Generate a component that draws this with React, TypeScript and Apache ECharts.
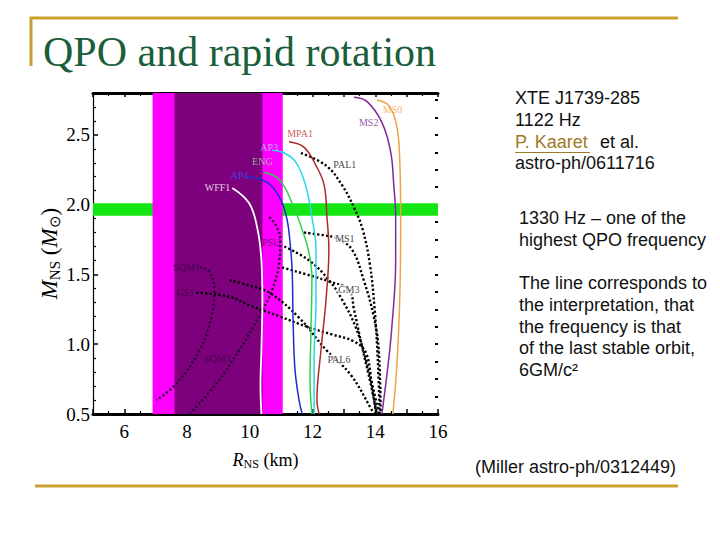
import React, { useEffect, useRef } from "react";
import * as echarts from "echarts";

// ---- data (R in km, M in solar masses) ----
const WFF1 = [[9.44,2.12],[9.98,2.01],[10.24,1.83],[10.37,1.6],[10.4,1.32],[10.37,0.96],[10.34,0.7],[10.37,0.5]];
const AP4 = [[9.89,2.2],[10.37,2.18],[10.71,2.13],[11.0,2.03],[11.19,1.89],[11.29,1.71],[11.35,1.53],[11.38,1.17],[11.44,0.82],[11.57,0.6],[11.67,0.5]];
const ENG = [[10.46,2.23],[10.94,2.18],[11.35,2.01],[11.67,1.82],[11.89,1.65],[11.98,1.48],[11.95,1.1],[11.92,0.74],[11.98,0.5]];
const AP3 = [[10.71,2.39],[11.1,2.37],[11.48,2.3],[11.79,2.13],[11.98,1.91],[12.11,1.68],[12.11,1.32],[12.05,0.89],[12.05,0.5]];
const MPA1 = [[11.25,2.45],[11.73,2.41],[12.11,2.28],[12.37,2.14],[12.46,1.91],[12.52,1.68],[12.43,1.32],[12.27,0.96],[12.14,0.6],[12.21,0.5]];
const MS2 = [[13.32,2.77],[13.73,2.74],[14.21,2.59],[14.49,2.38],[14.59,2.14],[14.65,1.91],[14.65,1.6],[14.52,1.1],[14.37,0.78],[14.21,0.5]];
const MS0 = [[14.05,2.75],[14.43,2.71],[14.68,2.57],[14.78,2.32],[14.81,1.89],[14.78,1.32],[14.68,0.82],[14.56,0.5]];

const PAL1 = [[11.63,2.37],[12.43,2.28],[12.94,2.14],[13.32,1.98],[13.6,1.82],[13.83,1.57],[13.98,1.25],[14.08,0.89],[14.14,0.5]];
const MS1 = [[11.73,1.8],[12.37,1.78],[12.75,1.76],[13.25,1.68],[13.63,1.46],[13.95,1.2],[14.11,0.96],[14.17,0.5]];
const GM3 = [[11.03,1.55],[12.11,1.48],[12.52,1.45],[13.16,1.39],[13.32,1.25],[13.57,0.99],[13.86,0.71],[14.05,0.5]];
const PSU = [[11.1,1.7],[11.89,1.6],[12.52,1.46],[12.94,1.32],[13.38,1.12],[13.7,0.89],[14.02,0.6],[14.11,0.5]];
const GS1 = [[8.3,1.37],[9.35,1.34],[9.98,1.28],[10.94,1.2],[11.89,1.12],[12.62,1.07],[13.32,1.02],[13.7,0.94],[13.89,0.71],[14.02,0.5]];
const PAL6 = [[9.35,1.46],[9.98,1.42],[10.62,1.37],[11.57,1.19],[12.43,0.96],[13.22,0.78],[13.86,0.54],[13.95,0.5]];
const SQM1 = [[8.4,1.55],[8.71,1.52],[8.87,1.39],[8.78,1.2],[8.4,0.96],[7.67,0.72],[7.03,0.6]];
const SQM3 = [[8.08,0.5],[8.94,0.72],[9.67,0.96],[10.3,1.2],[10.71,1.39],[10.94,1.59],[10.97,1.75],[10.84,1.85],[10.62,1.91]];

const MAGENTA_BAND = [6.9, 11.05];
const PURPLE_BAND = [7.6, 10.4];
const GREEN_BAND = [1.92, 2.01];

const LABEL_NAMES = ["WFF1","AP4","ENG","AP3","MPA1","PAL1","MS2","MS0","MS1","GM3","PAL6","PSU","SQM1","GS1","SQM3"];
const LABEL_R = [8.97,9.67,10.4,10.62,11.6,13.03,13.79,14.55,13.03,13.16,12.84,10.68,7.98,7.95,8.97];
const LABEL_M = [2.12,2.21,2.31,2.41,2.51,2.29,2.59,2.68,1.76,1.39,0.89,1.73,1.55,1.37,0.9];

const X_MIN = 5, X_MAX = 16;
const Y_MIN = 0.5, Y_MAX = 2.8;

const NOTES_1 = ["XTE J1739-285", "1122 Hz"];
const NOTE_AUTHOR = "P. Kaaret";
const NOTE_ETAL = "et al.";
const NOTE_REF = "astro-ph/0611716";
const NOTES_2 = ["1330 Hz \u2013 one of the", "highest QPO frequency"];
const NOTES_3 = ["The line corresponds to", "the interpretation, that", "the frequency is that", "of the last stable orbit,", "6GM/c\u00B2"];
const CITATION = "(Miller astro-ph/0312449)";

const LABEL_COLORS: Record<string, string> = {
  WFF1: "#ffffff", AP4: "#3a55ff", ENG: "#9fdc9f", AP3: "#a8ccff", MPA1: "#c0302a",
  PAL1: "#111", MS2: "#7d2590", MS0: "#eea03c", MS1: "#111", GM3: "#111", PAL6: "#111",
  PSU: "#4a0a4a", SQM1: "#35063a", GS1: "#35063a", SQM3: "#35063a",
};

export default function App() {
  const ref = useRef<HTMLDivElement>(null);
  useEffect(() => {
    if (!ref.current) return;
    const chart = echarts.init(ref.current, null, { renderer: "svg" });
    const serif = "Liberation Serif";
    const sans = "Liberation Sans";

    const solid = (name: string, data: number[][], color: string, width = 1.5) => ({
      type: "line", name, data, showSymbol: false, smooth: 0.4, silent: true, z: 3,
      lineStyle: { color, width },
    });
    const dotted = (name: string, data: number[][], color = "#000") => ({
      type: "line", name, data, showSymbol: false, smooth: 0.4, silent: true, z: 3,
      lineStyle: { color, width: 2.4, type: [2.2, 2.2] },
    });

    const blackLabel = new Set(["PAL1", "MS1", "GM3", "PAL6"]);

    const notesGraphic: any[] = [];
    const textEl = (text: string, x: number, y: number, fill = "#111", size = 18) => ({
      type: "text", x, y, silent: true,
      style: { text, fontFamily: sans, fontSize: size, fill, align: "left", verticalAlign: "middle" },
    });
    NOTES_1.forEach((t, i) => notesGraphic.push(textEl(t, 515, 98 + i * 22)));
    notesGraphic.push(textEl(NOTE_AUTHOR, 515, 142, "#9e7a26"));
    notesGraphic.push({ type: "line", silent: true, shape: { x1: 515, y1: 152.5, x2: 590, y2: 152.5 }, style: { stroke: "#9e7a26", lineWidth: 1.2 } });
    notesGraphic.push(textEl(NOTE_ETAL, 600, 142));
    notesGraphic.push(textEl(NOTE_REF, 515, 163));
    NOTES_2.forEach((t, i) => notesGraphic.push(textEl(t, 519, 218 + i * 22)));
    NOTES_3.forEach((t, i) => notesGraphic.push(textEl(t, 519, 283 + i * 21.8)));
    notesGraphic.push(textEl(CITATION, 475, 467));

    const option: any = {
      animation: false,
      backgroundColor: "#ffffff",
      grid: { left: 93, right: 282, top: 93, bottom: 126, containLabel: false },
      xAxis: [
        {
          type: "value", min: X_MIN, max: X_MAX, interval: 1, position: "bottom",
          axisLine: { lineStyle: { color: "#000", width: 3 } },
          axisTick: { inside: true, length: 5, lineStyle: { color: "#000", width: 1.5 } },
          minorTick: { show: true, splitNumber: 2, length: 3, lineStyle: { color: "#000", width: 1.2 } },
          splitLine: { show: false },
          axisLabel: {
            formatter: (v: number) => (v % 2 === 0 ? String(v) : ""),
            fontFamily: serif, fontSize: 19, color: "#000", margin: 8,
          },
          name: "{i|R}{s|NS} (km)",
          nameLocation: "middle", nameGap: 36,
          nameTextStyle: {
            fontFamily: serif, fontSize: 18, color: "#000",
            rich: {
              i: { fontFamily: serif, fontSize: 18, fontStyle: "italic", color: "#000", lineHeight: 20 },
              s: { fontFamily: serif, fontSize: 12, color: "#000", verticalAlign: "bottom", lineHeight: 12 },
            },
          },
        },
        {
          type: "value", min: X_MIN, max: X_MAX, interval: 1, position: "top",
          axisLine: { lineStyle: { color: "#000", width: 3 } },
          axisTick: { inside: true, length: 4, lineStyle: { color: "#000", width: 1.5 } },
          minorTick: { show: true, splitNumber: 2, length: 3, lineStyle: { color: "#000", width: 1.2 } },
          axisLabel: { show: false }, splitLine: { show: false },
        },
      ],
      yAxis: [
        {
          type: "value", min: Y_MIN, max: Y_MAX, interval: 0.5, position: "left",
          axisLine: { lineStyle: { color: "#000", width: 1.2 } },
          axisTick: { inside: true, length: 5, lineStyle: { color: "#000", width: 1.5 } },
          minorTick: { show: true, splitNumber: 5, length: 3, lineStyle: { color: "#000", width: 1.2 } },
          splitLine: { show: false },
          axisLabel: {
            formatter: (v: number) => v.toFixed(1), showMaxLabel: false,
            fontFamily: serif, fontSize: 19, color: "#000", margin: 3,
          },
          name: "{i|M}{s|NS} ({i|M}{s|\u2299})",
          nameLocation: "middle", nameGap: 24,
          nameTextStyle: {
            fontFamily: serif, fontSize: 23, color: "#000",
            rich: {
              i: { fontFamily: serif, fontSize: 23, fontStyle: "italic", color: "#000", lineHeight: 25 },
              s: { fontFamily: serif, fontSize: 15, color: "#000", verticalAlign: "bottom", lineHeight: 15 },
            },
          },
        },
        {
          type: "value", min: Y_MIN, max: Y_MAX, interval: 0.5, position: "right",
          axisLine: { show: false },
          axisTick: { inside: true, length: 3, lineStyle: { color: "#000", width: 2 } },
          minorTick: { show: true, splitNumber: 4, length: 3, lineStyle: { color: "#000", width: 2 } },
          axisLabel: { show: false }, splitLine: { show: false },
        },
      ],
      series: [
        {
          type: "line", data: [], silent: true,
          markArea: {
            silent: true,
            data: [
              [{ yAxis: GREEN_BAND[0], itemStyle: { color: "#14e614", opacity: 1 } }, { yAxis: GREEN_BAND[1] }],
              [{ xAxis: MAGENTA_BAND[0], itemStyle: { color: "#ff00ff", opacity: 1 } }, { xAxis: MAGENTA_BAND[1] }],
              [{ xAxis: PURPLE_BAND[0], itemStyle: { color: "#7d007d", opacity: 1 } }, { xAxis: PURPLE_BAND[1] }],
            ],
          },
        },
        dotted("SQM1", SQM1, "#2e0535"),
        dotted("SQM3", SQM3, "#2e0535"),
        dotted("GS1", GS1),
        dotted("PAL6", PAL6),
        dotted("PSU", PSU),
        dotted("GM3", GM3),
        dotted("MS1", MS1),
        dotted("PAL1", PAL1),
        solid("WFF1", WFF1, "#ffffff", 1.8),
        solid("AP4", AP4, "#1f2ad0"),
        solid("ENG", ENG, "#2fd24a"),
        solid("AP3", AP3, "#25d8e6"),
        solid("MPA1", MPA1, "#b0282a"),
        solid("MS2", MS2, "#7e2a98"),
        solid("MS0", MS0, "#f0a248"),
        {
          type: "scatter", silent: true, z: 10, symbolSize: 1,
          itemStyle: { color: "rgba(0,0,0,0)" },
          label: { show: true, position: "inside", formatter: "{b}", fontFamily: serif, fontSize: 10 },
          data: LABEL_NAMES.map((n, i) => ({
            name: n, value: [LABEL_R[i], LABEL_M[i]],
            label: {
              color: LABEL_COLORS[n],
              backgroundColor: blackLabel.has(n) ? "#ffffff" : "transparent",
              padding: blackLabel.has(n) ? [0, 1] : 0,
            },
          })),
        },
      ],
      graphic: [
        { type: "line", silent: true, shape: { x1: 30, y1: 18, x2: 678, y2: 18 }, style: { stroke: "#c9a02e", lineWidth: 3 } },
        { type: "line", silent: true, shape: { x1: 31, y1: 17, x2: 31, y2: 66 }, style: { stroke: "#c9a02e", lineWidth: 3 } },
        { type: "line", silent: true, shape: { x1: 35, y1: 486, x2: 678, y2: 486 }, style: { stroke: "#c9a02e", lineWidth: 3 } },
        {
          type: "text", x: 43, y: 52, silent: true,
          style: { text: "QPO and rapid rotation", fontFamily: serif, fontSize: 42, fill: "#1b5e3b", align: "left", verticalAlign: "middle" },
        },
        ...notesGraphic,
      ],
    };
    chart.setOption(option);
    return () => chart.dispose();
  }, []);
  return <div ref={ref} style={{ position: "absolute", left: 0, top: 0, width: 720, height: 540 }} />;
}
